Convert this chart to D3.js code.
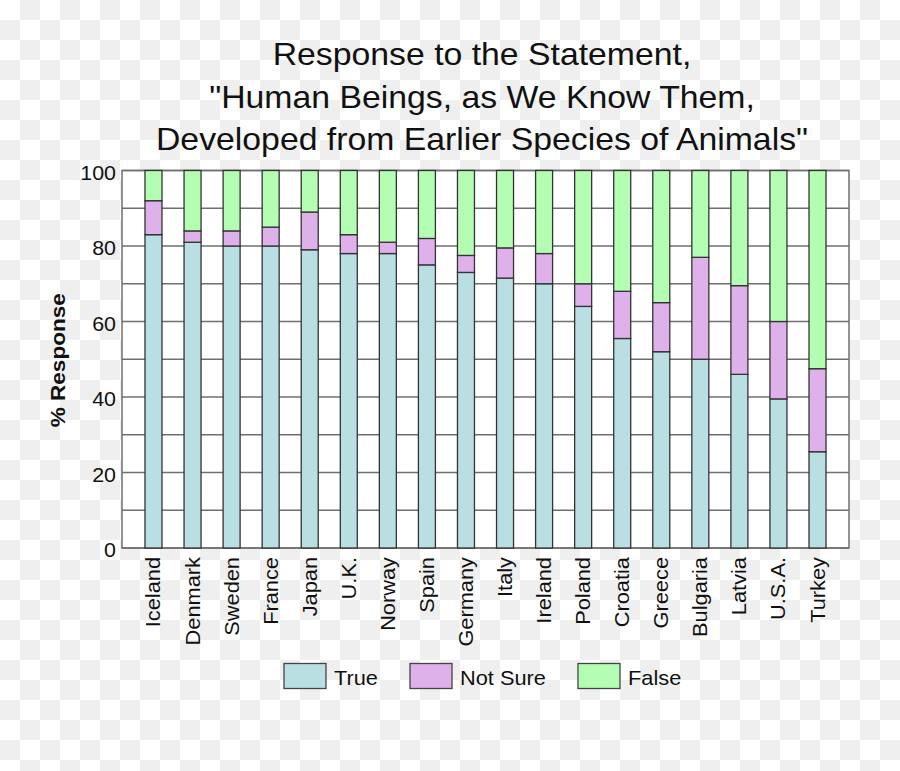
<!DOCTYPE html>
<html>
<head>
<meta charset="utf-8">
<script src="https://cdn.jsdelivr.net/npm/d3@7"></script>
<style>
  html, body { margin: 0; padding: 0; background: #fff; }
  svg { display: block; font-family: "Liberation Sans", Arial, sans-serif; }
</style>
</head>
<body>
<svg id="chart" width="900" height="771"></svg>
<script>
const titleLines = [
  "Response to the Statement,",
  "\"Human Beings, as We Know Them,",
  "Developed from Earlier Species of Animals\""
];
const categories = ["Iceland","Denmark","Sweden","France","Japan","U.K.","Norway","Spain","Germany","Italy","Ireland","Poland","Croatia","Greece","Bulgaria","Latvia","U.S.A.","Turkey"];
const trueVals    = [83, 81, 80, 80, 79, 78, 78, 75, 73, 71.5, 70, 64, 55.5, 52, 50, 46, 39.5, 25.5];
const notSureVals = [9,  3,  4,  5,  10, 5,  3,  7,  4.5, 8, 8,  6,  12.5, 13, 27, 23.5, 20.5, 22];
const falseVals   = [8,  16, 16, 15, 11, 17, 19, 18, 22.5, 20.5, 22, 30, 32, 35, 23, 30.5, 40, 52.5];
const seriesNames = ["True", "Not Sure", "False"];
const seriesColors = ["#b9dfe2", "#dfb1ea", "#b3feb3"];
const yTicks = [0, 20, 40, 60, 80, 100];
const yLabel = "% Response";

const svg = d3.select("#chart");
const W = 900, H = 771;
const SX = 1.09; // glyph widening to match reference typeface

// checkerboard background
const defs = svg.append("defs");
const pat = defs.append("pattern").attr("id", "checker")
  .attr("width", 40).attr("height", 40).attr("patternUnits", "userSpaceOnUse");
pat.append("rect").attr("width", 40).attr("height", 40).attr("fill", "#ffffff");
pat.append("rect").attr("x", 20).attr("y", 0).attr("width", 20).attr("height", 20).attr("fill", "#efefef");
pat.append("rect").attr("x", 0).attr("y", 20).attr("width", 20).attr("height", 20).attr("fill", "#efefef");
svg.append("rect").attr("width", W).attr("height", H).attr("fill", "url(#checker)");

const pLeft = 122, pRight = 849, pTop = 170.5, pBottom = 548;

const x = d3.scalePoint().domain(categories).range([pLeft, pRight]).padding(0.806);
const y = d3.scaleLinear().domain([0, 100]).range([pBottom, pTop]);

// plot background
svg.append("rect").attr("x", pLeft).attr("y", pTop).attr("width", pRight - pLeft).attr("height", pBottom - pTop)
  .attr("fill", "#ffffff");

// grid
svg.append("g").selectAll("line").data(d3.range(0, 101, 10)).join("line")
  .attr("x1", pLeft).attr("x2", pRight)
  .attr("y1", d => y(d)).attr("y2", d => y(d))
  .attr("stroke", "#6f6f6f").attr("stroke-width", 1.5);

// border
svg.append("rect").attr("x", pLeft).attr("y", pTop).attr("width", pRight - pLeft).attr("height", pBottom - pTop)
  .attr("fill", "none").attr("stroke", "#6f6f6f").attr("stroke-width", 1.5);

// data table + stack
const table = categories.map((c, i) => ({
  cat: c, "True": trueVals[i], "Not Sure": notSureVals[i], "False": falseVals[i]
}));
const stacked = d3.stack().keys(seriesNames)(table);

const barW = 17;
svg.append("g").selectAll("g").data(stacked).join("g")
  .attr("fill", (d, i) => seriesColors[i])
  .selectAll("rect").data(d => d).join("rect")
  .attr("x", d => x(d.data.cat) - barW / 2)
  .attr("width", barW)
  .attr("y", d => y(d[1]))
  .attr("height", d => y(d[0]) - y(d[1]))
  .attr("stroke", "#333333").attr("stroke-width", 1.3);

// y axis labels
svg.append("g").selectAll("text").data(yTicks).join("text")
  .attr("transform", d => `translate(116, ${y(d)}) scale(1.07, 1)`)
  .attr("dy", "0.46em")
  .attr("text-anchor", "end").attr("font-size", 20).attr("fill", "#111")
  .text(d => d);

// y title
svg.append("text")
  .attr("transform", `translate(65, ${(pTop + pBottom) / 2 + 1}) rotate(-90) scale(1.075, 1)`)
  .attr("text-anchor", "middle").attr("font-size", 21)
  .attr("font-weight", "bold").attr("fill", "#111")
  .text(yLabel);

// x labels
svg.append("g").selectAll("text").data(categories).join("text")
  .attr("transform", d => `translate(${x(d)}, 557) rotate(-90) scale(${SX}, 1)`)
  .attr("dy", "0.35em")
  .attr("text-anchor", "end").attr("font-size", 20).attr("fill", "#111")
  .text(d => d);

// title
svg.append("g").selectAll("text").data(titleLines).join("text")
  .attr("transform", (d, i) => `translate(482, ${65 + i * 42.5}) scale(1.09, 1)`)
  .attr("text-anchor", "middle").attr("font-size", 31).attr("fill", "#111")
  .text(d => d);

// legend
const lg = svg.append("g");
let lx = 284;
seriesNames.forEach((name, i) => {
  lg.append("rect").attr("x", lx).attr("y", 663.5).attr("width", 42).attr("height", 25)
    .attr("fill", seriesColors[i]).attr("stroke", "#444").attr("stroke-width", 1.3);
  const t = lg.append("text").attr("transform", `translate(${lx + 50}, 685) scale(${SX}, 1)`)
    .attr("font-size", 20).attr("fill", "#111").text(name);
  lx = lx + 50 + t.node().getComputedTextLength() * SX + 32;
});
</script>
</body>
</html>
